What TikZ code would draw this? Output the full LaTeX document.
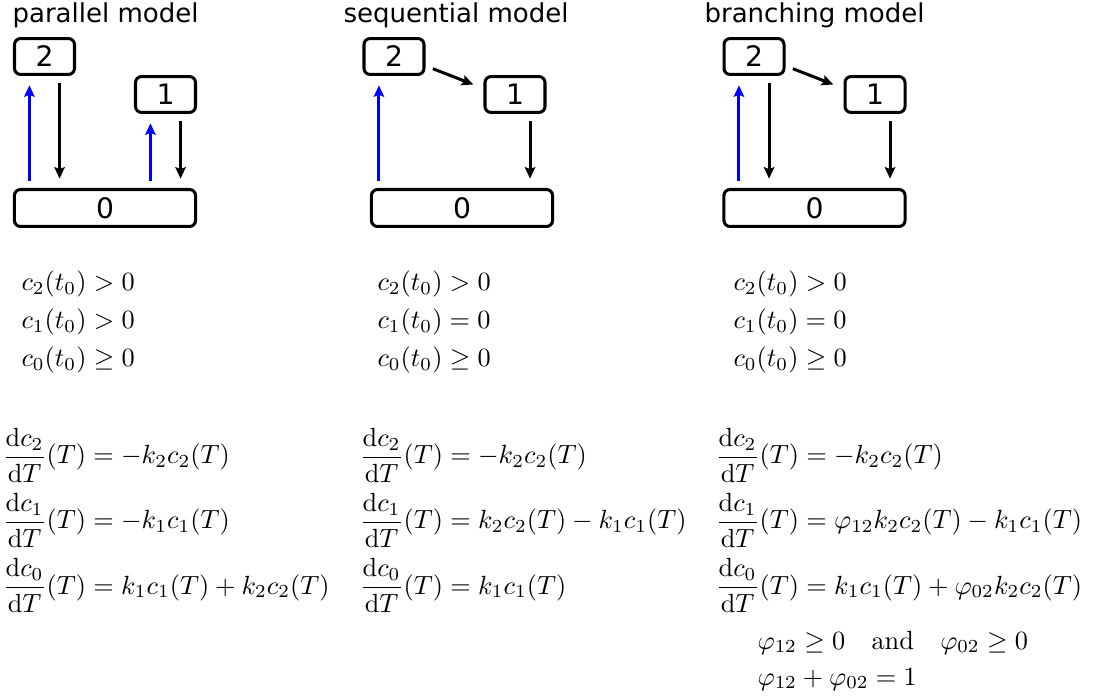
\documentclass[tikz,border=0pt]{standalone}
\usepackage{amsmath,amssymb}
\usepackage{graphicx}
\usepackage{fontspec}
\newfontfamily\modelfont{DejaVu Sans}
\usetikzlibrary{arrows.meta,positioning}
\definecolor{modelblue}{HTML}{0000FF}
\newcommand{\rate}[1]{\scalebox{0.96}{$#1$}}

\begin{document}
\begin{tikzpicture}[
  x=0.365pt,y=-0.365pt,
  every node/.style={font=\normalsize},
  title/.style={font=\modelfont\fontsize{9.5}{11}\selectfont,anchor=base west,inner sep=0pt},
  level/.style={draw,line width=1.1pt,rounded corners=2.2pt,minimum width=21.9pt,minimum height=13.1pt,inner sep=0pt,font=\modelfont\fontsize{10.3}{12}\selectfont},
  groundlevel/.style={level,minimum width=66.1pt,minimum height=13.5pt},
  eq/.style={anchor=base west,inner sep=0pt},
  arr/.style={-{Stealth[length=4.2pt,width=3.8pt,inset=0.7pt]},line width=1.1pt,shorten <=2.5pt,shorten >=3.4pt},
  feed/.style={arr,draw=modelblue,fill=modelblue}
]
\useasboundingbox (0,0) rectangle (1098,698);

% parallel model
\node[title] (ptitle) at (12,23) {parallel model};
\node[level] (p2) at (44.5,56.5) {2};
\node[level] (p1) at (165.5,94.5) {1};
\node[groundlevel] (p0) at (105,208) {0};
\draw[feed] ([xshift=-5.5pt]p2.south |- p0.north) -- ([xshift=-5.5pt]p2.south);
\draw[arr] ([xshift=5.5pt]p2.south) -- ([xshift=5.5pt]p2.south |- p0.north);
\draw[feed] ([xshift=-5.5pt]p1.south |- p0.north) -- ([xshift=-5.5pt]p1.south);
\draw[arr] ([xshift=5.5pt]p1.south) -- ([xshift=5.5pt]p1.south |- p0.north);

\node[eq] (pc2) at (21,291) {\rate{c_2(t_0) > 0}};
\node[eq] (pc1) at (21,329) {\rate{c_1(t_0) > 0}};
\node[eq] (pc0) at (21,367) {\rate{c_0(t_0) \geq 0}};
\node[eq] (pd2) at (2,464) {\rate{\dfrac{\mathrm{d}c_2}{\mathrm{d}T}(T) = -k_2c_2(T)}};
\node[eq] (pd1) at (2,529) {\rate{\dfrac{\mathrm{d}c_1}{\mathrm{d}T}(T) = -k_1c_1(T)}};
\node[eq] (pd0) at (2,594) {\rate{\dfrac{\mathrm{d}c_0}{\mathrm{d}T}(T) = k_1c_1(T) + k_2c_2(T)}};

% sequential model
\node[title] (stitle) at (343,23) {sequential model};
\node[level] (s2) at (394,56.5) {2};
\node[level] (s1) at (515,94.5) {1};
\node[groundlevel] (s0) at (462,208) {0};
\draw[feed] ([xshift=-5.5pt]s2.south |- s0.north) -- ([xshift=-5.5pt]s2.south);
\draw[arr,shorten <=2.9pt,shorten >=4pt] ([yshift=-3.4pt]s2.east) -- ([yshift=2.2pt]s1.west);
\draw[arr] ([xshift=5.5pt]s1.south) -- ([xshift=5.5pt]s1.south |- s0.north);

\node[eq] (sc2) at (377,291) {\rate{c_2(t_0) > 0}};
\node[eq] (sc1) at (377,329) {\rate{c_1(t_0) = 0}};
\node[eq] (sc0) at (377,367) {\rate{c_0(t_0) \geq 0}};
\node[eq] (sd2) at (359,464) {\rate{\dfrac{\mathrm{d}c_2}{\mathrm{d}T}(T) = -k_2c_2(T)}};
\node[eq] (sd1) at (359,529) {\rate{\dfrac{\mathrm{d}c_1}{\mathrm{d}T}(T) = k_2c_2(T) - k_1c_1(T)}};
\node[eq] (sd0) at (359,594) {\rate{\dfrac{\mathrm{d}c_0}{\mathrm{d}T}(T) = k_1c_1(T)}};

% branching model
\node[title] (btitle) at (704,23) {branching model};
\node[level] (b2) at (754,56.5) {2};
\node[level] (b1) at (875,94.5) {1};
\node[groundlevel] (b0) at (814.5,208) {0};
\draw[feed] ([xshift=-5.5pt]b2.south |- b0.north) -- ([xshift=-5.5pt]b2.south);
\draw[arr] ([xshift=5.5pt]b2.south) -- ([xshift=5.5pt]b2.south |- b0.north);
\draw[arr,shorten <=2.9pt,shorten >=4pt] ([yshift=-3.4pt]b2.east) -- ([yshift=2.2pt]b1.west);
\draw[arr] ([xshift=5.5pt]b1.south) -- ([xshift=5.5pt]b1.south |- b0.north);

\node[eq] (bc2) at (733,291) {\rate{c_2(t_0) > 0}};
\node[eq] (bc1) at (733,329) {\rate{c_1(t_0) = 0}};
\node[eq] (bc0) at (733,367) {\rate{c_0(t_0) \geq 0}};
\node[eq] (bd2) at (715,464) {\rate{\dfrac{\mathrm{d}c_2}{\mathrm{d}T}(T) = -k_2c_2(T)}};
\node[eq] (bd1) at (715,529) {\rate{\dfrac{\mathrm{d}c_1}{\mathrm{d}T}(T) = \varphi_{12}k_2c_2(T) - k_1c_1(T)}};
\node[eq] (bd0) at (715,594) {\rate{\dfrac{\mathrm{d}c_0}{\mathrm{d}T}(T) = k_1c_1(T) + \varphi_{02}k_2c_2(T)}};
\node[eq] (bphi1) at (757,649) {\rate{\varphi_{12} \geq 0 \quad\text{and}\quad \varphi_{02} \geq 0}};
\node[eq] (bphi2) at (757,685) {\rate{\varphi_{12} + \varphi_{02} = 1}};
\end{tikzpicture}
\end{document}
